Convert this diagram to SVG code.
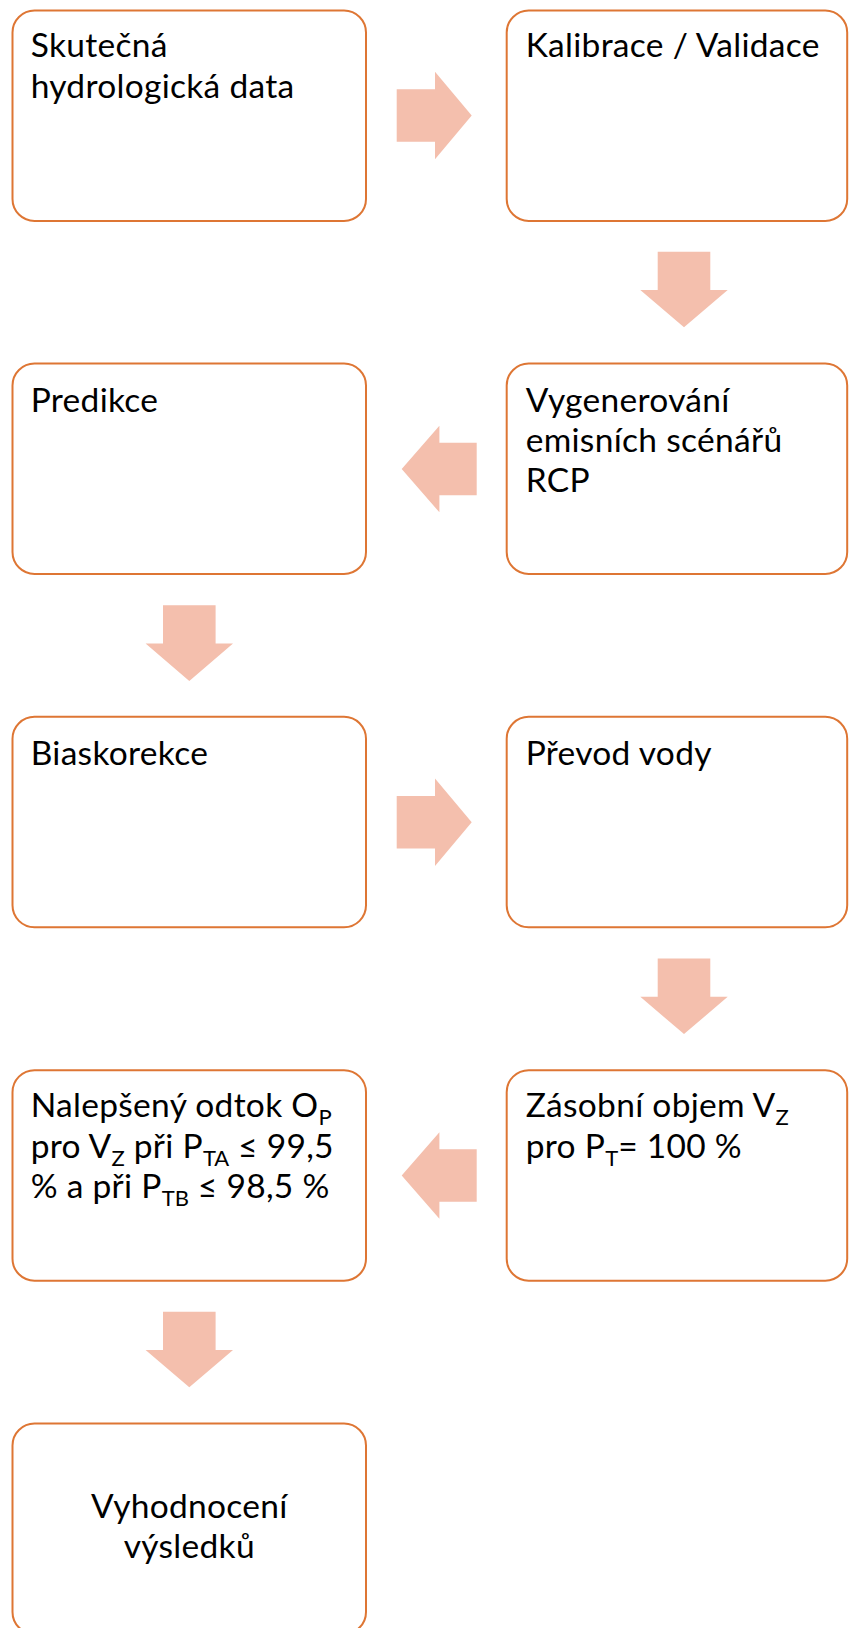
<svg xmlns="http://www.w3.org/2000/svg" width="849" height="1628" viewBox="0 0 849 1628">
<style>
.box{fill:#fff;stroke:#DE7634;stroke-width:2}
.arr{fill:#F4BFAD}
text{font-family:Lato,"Liberation Sans",sans-serif;font-size:33.5px;letter-spacing:0.3px;fill:#000}
.sub{font-size:22px;letter-spacing:0}
</style>
<defs>
<path id="ar" d="M0,-26.2 H38.3 V-43.7 L75,0 L38.3,43.7 V26.2 H0 Z"/>
<path id="al" d="M75,-26.2 H37.7 V-43.3 L0,0 L37.7,43.3 V26.2 H75 Z"/>
<path id="ad" d="M-26.3,0 H26.3 V38.3 H43.7 L0,75.6 L-43.7,38.3 H-26.3 Z"/>
</defs>
<rect width="849" height="1628" fill="#fff"/>
<g id="connectors">
<use href="#ar" class="arr" x="396.7" y="115.5"/>
<use href="#ad" class="arr" x="684" y="251.7"/>
<use href="#al" class="arr" x="401.7" y="469"/>
<use href="#ad" class="arr" x="189.3" y="605.3"/>
<use href="#ar" class="arr" x="396.7" y="822.2"/>
<use href="#ad" class="arr" x="684" y="958.5"/>
<use href="#al" class="arr" x="401.7" y="1175.5"/>
<use href="#ad" class="arr" x="189.3" y="1311.7"/>
</g>
<g id="n1"><rect class="box" x="12.5" y="10.5" width="353.5" height="210.5" rx="22"/>
<text x="30.7" y="57">Skutečná</text><text x="30.7" y="97.5">hydrologická data</text></g>
<g id="n2"><rect class="box" x="506.7" y="10.5" width="340.5" height="210.5" rx="22"/>
<text x="525.7" y="57">Kalibrace / Validace</text></g>
<g id="n3"><rect class="box" x="506.7" y="363.5" width="340.5" height="210.5" rx="22"/>
<text x="525.7" y="411.5">Vygenerování</text><text x="525.7" y="451.8">emisních scénářů</text><text x="525.7" y="492">RCP</text></g>
<g id="n4"><rect class="box" x="12.5" y="363.5" width="353.5" height="210.5" rx="22"/>
<text x="30.7" y="411.5">Predikce</text></g>
<g id="n5"><rect class="box" x="12.5" y="716.8" width="353.5" height="210.5" rx="22"/>
<text x="30.7" y="764.5">Biaskorekce</text></g>
<g id="n6"><rect class="box" x="506.7" y="716.8" width="340.5" height="210.5" rx="22"/>
<text x="525.7" y="764.5">Převod vody</text></g>
<g id="n7"><rect class="box" x="506.7" y="1070.2" width="340.5" height="210.5" rx="22"/>
<text x="525.7" y="1117.3">Zásobní objem V<tspan class="sub" dy="8">Z</tspan></text>
<text x="525.7" y="1157.8">pro P<tspan class="sub" dy="8">T</tspan><tspan dy="-8">= 100 %</tspan></text></g>
<g id="n8"><rect class="box" x="12.5" y="1070.2" width="353.5" height="210.5" rx="22"/>
<text x="30.7" y="1117.3">Nalepšený odtok O<tspan class="sub" dy="8">P</tspan></text>
<text x="30.7" y="1157.8">pro V<tspan class="sub" dy="8">Z</tspan><tspan dy="-8"> při P</tspan><tspan class="sub" dy="8">TA</tspan><tspan dy="-8"> ≤ 99,5</tspan></text>
<text x="30.7" y="1198.3">% a při P<tspan class="sub" dy="8">TB</tspan><tspan dy="-8"> ≤ 98,5 %</tspan></text></g>
<g id="n9"><rect class="box" x="12.5" y="1423.5" width="353.5" height="210.5" rx="22"/>
<text x="189.3" y="1518.3" text-anchor="middle">Vyhodnocení</text><text x="189.3" y="1558.3" text-anchor="middle">výsledků</text></g>
</svg>
